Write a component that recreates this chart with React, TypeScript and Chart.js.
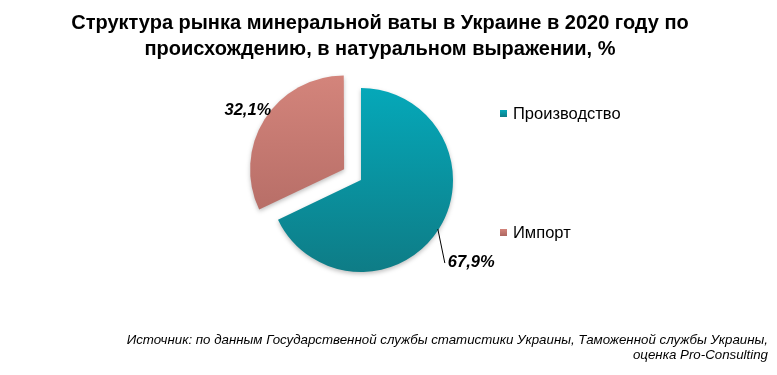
import React, { useEffect, useRef } from "react";
import { Chart, registerables } from "chart.js";

Chart.register(...registerables);

const TITLE_LINES = [
  "Структура рынка минеральной ваты в Украине в 2020 году по",
  "происхождению, в натуральном выражении, %",
];
const CATEGORIES = ["Производство", "Импорт"];
const VALUES = [67.9, 32.1];
const VALUE_LABELS = ["67,9%", "32,1%"];
const OFFSETS = [0, 80];
const SOURCE_LINES = [
  "Источник: по данным Государственной службы статистики Украины, Таможенной службы Украины,",
  "оценка Pro-Consulting",
];

const GRADIENTS = [
  ["#05a8b9", "#0e7c86"],
  ["#d3847b", "#ad6660"],
];

const FONT = "'Liberation Sans', Arial, sans-serif";

const labelPlugin = {
  id: "valueLabels",
  afterDatasetsDraw(chart: any) {
    const ctx = chart.ctx;
    const meta = chart.getDatasetMeta(0);
    ctx.save();
    ctx.font = `italic bold 16.5px ${FONT}`;
    ctx.fillStyle = "#000";
    ctx.textBaseline = "alphabetic";
    meta.data.forEach((arc: any, i: number) => {
      const { x, y, startAngle, endAngle, outerRadius } = arc.getProps(
        ["x", "y", "startAngle", "endAngle", "outerRadius"],
        true
      );
      const mid = (startAngle + endAngle) / 2;
      const off = (OFFSETS[i] || 0) / 4;
      const cx = x + Math.cos(mid) * off;
      const cy = y + Math.sin(mid) * off;
      const ex = cx + Math.cos(mid) * outerRadius;
      const ey = cy + Math.sin(mid) * outerRadius;
      if (i === 0) {
        ctx.strokeStyle = "#000";
        ctx.lineWidth = 1;
        ctx.beginPath();
        ctx.moveTo(ex - 1, ey);
        ctx.lineTo(ex + 6, ey + 34);
        ctx.stroke();
        ctx.textAlign = "left";
        ctx.fillText(VALUE_LABELS[i], ex + 9, ey + 38);
      } else {
        ctx.textAlign = "right";
        ctx.fillText(VALUE_LABELS[i], ex + 5, ey - 5);
      }
    });
    ctx.restore();
  },
};

const shadowPlugin = {
  id: "arcShadow",
  beforeDatasetsDraw(chart: any) {
    const ctx = chart.ctx;
    ctx.save();
    ctx.shadowColor = "rgba(0,0,0,0.25)";
    ctx.shadowBlur = 4;
    ctx.shadowOffsetY = 2;
  },
  afterDatasetsDraw(chart: any) {
    chart.ctx.restore();
  },
};

export default function App() {
  const canvasRef = useRef<HTMLCanvasElement>(null);

  useEffect(() => {
    document.body.style.margin = "0";
    const canvas = canvasRef.current;
    if (!canvas) return;
    const chart = new Chart(canvas, {
      type: "pie",
      data: {
        labels: CATEGORIES,
        datasets: [
          {
            data: VALUES,
            offset: OFFSETS,
            borderWidth: 0,
            backgroundColor: (c: any) => {
              const ch = c.chart;
              const i = c.dataIndex;
              const el = ch.getDatasetMeta(0).data[i];
              if (!ch.chartArea || !el || el.x === undefined) return GRADIENTS[i][0];
              const r = el.outerRadius || 92;
              const g = ch.ctx.createLinearGradient(0, el.y - r, 0, el.y + r);
              g.addColorStop(0, GRADIENTS[i][0]);
              g.addColorStop(1, GRADIENTS[i][1]);
              return g;
            },
          },
        ],
      },
      options: {
        animation: false,
        responsive: false,
        devicePixelRatio: 1,
        radius: 92,
        layout: { padding: { left: 250, right: 305, top: 69, bottom: 84 } },
        plugins: {
          legend: { display: false },
          title: { display: false },
          tooltip: { enabled: false },
        },
      } as any,
      plugins: [shadowPlugin, labelPlugin],
    });
    chart.update();
    return () => chart.destroy();
  }, []);

  return (
    <div
      style={{
        position: "relative",
        width: 777,
        height: 375,
        background: "#fff",
        fontFamily: FONT,
        overflow: "hidden",
      }}
    >
      <canvas ref={canvasRef} width={777} height={375} style={{ position: "absolute", left: 0, top: 0 }} />
      <div
        style={{
          position: "absolute",
          left: 0,
          top: 9,
          width: 760,
          textAlign: "center",
          fontWeight: "bold",
          fontSize: 20,
          lineHeight: "26px",
          color: "#000",
        }}
      >
        {TITLE_LINES.map((t, i) => (
          <div key={i}>{t}</div>
        ))}
      </div>
      {CATEGORIES.map((c, i) => (
        <div
          key={c}
          style={{
            position: "absolute",
            left: 500,
            top: i === 0 ? 104 : 223,
            height: 18,
            display: "flex",
            alignItems: "center",
            fontSize: 16.5,
            color: "#000",
          }}
        >
          <span
            style={{
              display: "inline-block",
              width: 7,
              height: 7,
              marginRight: 6,
              background: `linear-gradient(${GRADIENTS[i][0]}, ${GRADIENTS[i][1]})`,
            }}
          />
          {c}
        </div>
      ))}
      <div
        style={{
          position: "absolute",
          right: 9,
          top: 332,
          textAlign: "right",
          fontStyle: "italic",
          fontSize: 13.3,
          lineHeight: "15px",
          color: "#000",
        }}
      >
        {SOURCE_LINES.map((t, i) => (
          <div key={i} style={{ whiteSpace: "nowrap" }}>{t}</div>
        ))}
      </div>
    </div>
  );
}
